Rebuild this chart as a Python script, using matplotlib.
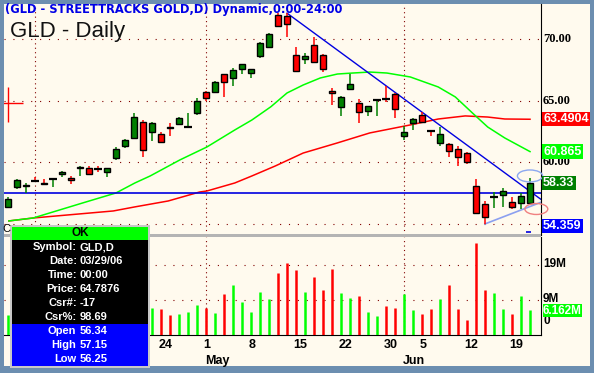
import matplotlib
matplotlib.use("Agg")
import matplotlib.pyplot as plt
from matplotlib.patches import Rectangle, Ellipse

W, H = 594, 373

# daily bars, 03/29/06 .. 06/21/06 (bar index 0..58)
opens = [56.34, 58.00, 58.05, 58.50, 58.35, 58.62, 59.05, 58.70, 59.55, 59.55,
         59.50, 59.25, 60.35, 61.30, 62.00, 63.27, 62.45, 62.30, 62.90, 63.10,
         62.85, 64.00, 65.70, 65.70, 67.15, 66.85, 67.55, 67.25, 68.60, 69.35,
         71.95, 71.85, 68.70, 68.40, 69.50, 68.70, 65.80, 64.50, 65.95, 64.80,
         64.15, 65.00, 65.15, 65.55, 62.15, 63.20, 63.85, 62.55, 61.55, 61.50,
         61.10, 60.75, 58.10, 56.60, 57.17, 57.35, 56.80, 56.70, 56.70]
highs = [57.15, 58.65, 58.32, 58.80, 58.65, 58.70, 59.30, 58.90, 59.70, 59.70,
         59.70, 59.55, 61.20, 61.90, 64.00, 63.43, 63.25, 62.45, 63.20, 63.70,
         64.00, 65.20, 65.75, 66.60, 67.20, 67.65, 68.00, 67.60, 69.75, 70.50,
         72.10, 72.10, 69.35, 68.85, 70.15, 68.75, 66.05, 65.35, 67.15, 65.15,
         64.60, 65.10, 66.20, 65.60, 62.95, 63.60, 64.10, 62.60, 62.85, 61.55,
         61.35, 60.85, 58.65, 56.85, 57.60, 57.90, 57.20, 57.50, 58.75]
lows = [56.25, 57.85, 57.50, 58.40, 58.15, 58.00, 58.80, 58.25, 58.90, 59.00,
        59.20, 58.80, 60.20, 61.15, 61.90, 60.45, 61.75, 61.55, 62.10, 63.05,
        62.80, 63.85, 64.95, 65.60, 65.30, 66.20, 67.15, 66.85, 68.45, 69.30,
        70.95, 70.15, 67.35, 67.95, 68.05, 67.30, 64.65, 63.75, 65.90, 63.20,
        63.75, 63.75, 64.90, 63.60, 61.80, 62.60, 63.20, 62.10, 61.30, 60.45,
        59.70, 59.85, 55.80, 55.00, 56.30, 56.35, 56.20, 56.20, 56.65]
closes = [57.00, 58.56, 58.15, 58.48, 58.25, 58.65, 59.20, 58.60, 59.65, 59.05,
          59.45, 59.50, 61.05, 61.80, 63.70, 61.00, 63.20, 61.65, 62.80, 63.60,
          62.88, 65.00, 65.20, 66.50, 66.50, 67.50, 67.95, 67.55, 69.70, 70.40,
          71.05, 71.20, 67.40, 68.60, 68.15, 67.55, 65.60, 65.30, 66.35, 64.10,
          64.55, 65.04, 65.12, 64.30, 62.45, 63.50, 63.25, 62.52, 62.30, 60.90,
          60.45, 60.00, 55.90, 55.55, 57.20, 57.65, 56.40, 57.25, 58.33]
# volume in millions
volumes = [4.7, 6.0, 5.5, 5.0, 5.5, 4.5, 6.5, 5.0, 6.0, 5.5,
           5.0, 6.5, 8.0, 7.5, 12.0, 9.0, 6.7, 6.4, 4.7, 5.0,
           5.6, 7.6, 6.7, 5.3, 10.7, 13.3, 8.4, 5.6, 11.3, 9.3,
           16.7, 19.6, 17.6, 11.3, 15.6, 11.9, 17.9, 11.0, 9.6, 10.1,
           5.6, 4.4, 7.3, 6.7, 10.7, 6.1, 5.0, 6.4, 9.3, 13.3,
           6.4, 3.3, 25.3, 11.9, 11.0, 6.4, 5.0, 10.1, 6.162]

# moving averages (bar index, price)
ma_fast_x = [0.1, 2.8, 8.3, 12.0, 14.1, 15.8, 19.1, 22.1, 25.2, 27.1, 29.2, 31.0,
             32.8, 34.7, 36.6, 38.3, 40.2, 42.1, 44.7, 47.8, 49.7, 51.6, 53.3,
             55.2, 58.0]
ma_fast_y = [55.24, 55.48, 56.70, 57.51, 58.32, 58.89, 60.19, 61.24, 62.62, 63.43,
             64.50, 65.62, 66.27, 66.84, 67.16, 67.24, 67.32, 67.24, 66.92, 66.11,
             65.30, 64.00, 62.86, 61.97, 60.865]
ma_slow_x = [0.1, 2.8, 11.7, 14.1, 17.8, 21.3, 22.1, 25.2, 27.1, 29.7, 32.8, 36.6,
             40.2, 44.7, 47.8, 50.8, 53.3, 55.2, 58.0]
ma_slow_y = [55.24, 55.48, 56.05, 56.38, 56.86, 57.59, 57.67, 58.32, 58.89, 59.70,
             60.75, 61.57, 62.38, 63.03, 63.51, 63.76, 63.67, 63.51, 63.4904]

# drawn lines
support_level = 57.5
down_trend_x = [31, 59.2]
down_trend_y = [72.1, 57.0]
up_trend_x = [53, 59.2]
up_trend_y = [55.0, 56.75]

day_ticks = [17, 22, 27, 32, 37, 42, 46, 51, 56]
day_labels = ["24", "1", "8", "15", "22", "30", "5", "12", "19"]
month_ticks = [22, 44]
month_labels = ["May", "Jun"]
month_lines = [3, 22, 44]

price_grid = [55, 60, 65, 70]
price_labels = ["70.00", "65.00", "60.00"]
vol_grid = [9, 19]

info_rows = [("Symbol:", "GLD,D"), ("Date:", "03/29/06"), ("Time:", "00:00"),
             ("Price:", "64.7876"), ("Csr#:", "-17"), ("Csr%:", "98.69")]
ohl_rows = [("Open", "56.34"), ("High", "57.15"), ("Low", "56.25")]

CREAM = "#FFFAEE"
FRAME = "#6C8EB0"
DOT = "#800000"
GREEN = "#008000"
LIME = "#00FF00"
RED = "#FF0000"

plt.rcParams["font.family"] = ["Liberation Sans", "DejaVu Sans"]


def px_rect(x0, y0, x1, y1):
    return [x0 / W, 1 - y1 / H, (x1 - x0) / W, (y1 - y0) / H]


fig = plt.figure(figsize=(W / 100, H / 100), dpi=100, facecolor=FRAME)
fig.add_artist(Rectangle((4 / W, 1 - 366 / H), 586 / W, 362 / H,
                         transform=fig.transFigure, fc=CREAM, ec="none", zorder=-5))

ax = fig.add_axes(px_rect(4, 4, 541, 235))
axv = fig.add_axes(px_rect(4, 237, 541, 335), sharex=ax)
for a in (ax, axv):
    a.set_facecolor(CREAM)
    for s in ("left", "top", "bottom"):
        a.spines[s].set_visible(False)
    a.spines["right"].set_color("black")
    a.tick_params(left=False, right=False, bottom=False, labelleft=False,
                  labelbottom=False)
axv.spines["bottom"].set_visible(True)
axv.spines["bottom"].set_color("black")

ax.set_xlim(-0.44, 59.22)
ax.set_ylim(54.10, 72.84)
axv.set_ylim(-1.0, 27.0)

# grid
for g in price_grid:
    ax.axhline(g, color=DOT, lw=0.8, ls=(0, (1, 7)), zorder=1)
for g in vol_grid:
    axv.axhline(g, color=DOT, lw=0.8, ls=(0, (1, 7)), zorder=1)
for m in month_lines:
    ax.axvline(m, color=DOT, lw=0.8, ls=(0, (1, 3)), zorder=1)
    axv.axvline(m, color=DOT, lw=0.8, ls=(0, (1, 3)), zorder=1)

# moving averages and lines
ax.plot(ma_slow_x, ma_slow_y, color=RED, lw=1.1, zorder=2)
ax.plot(ma_fast_x, ma_fast_y, color=LIME, lw=1.1, zorder=2)
ax.axhline(support_level, color="#0000E0", lw=1.2, zorder=2)
ax.plot(down_trend_x, down_trend_y, color="#0000E0", lw=1.0, zorder=2)
ax.plot(up_trend_x, up_trend_y, color="#8CA0F0", lw=1.2, zorder=2)

# candles
for i, (o, h, l, c) in enumerate(zip(opens, highs, lows, closes)):
    col = GREEN if c >= o else RED
    ax.vlines(i, l, h, color=col, lw=1.1, zorder=3)
    if abs(c - o) < 0.06:
        ax.hlines((o + c) / 2, i - 0.4, i + 0.4, color="black", lw=1.6, zorder=4)
    else:
        ax.bar(i, abs(c - o), bottom=min(o, c), width=0.72, color=col,
               edgecolor="black", lw=1.0, zorder=4)

# volume
for i, v in enumerate(volumes):
    col = LIME if closes[i] >= opens[i] else RED
    axv.vlines(i, -1.0, v, color=col, lw=1.8, zorder=3)

# cursor cross and markers
ax.hlines(64.7876, -0.6, 1.7, color=RED, lw=1.0, zorder=5)
ax.vlines(0, 63.3, 66.1, color=RED, lw=1.0, zorder=5)
ax.hlines(54.359, 57.5, 58.1, color="#0000E0", lw=1.2, zorder=5)
ax.add_patch(Ellipse((58.0, 58.89), 2.8, 0.97, fill=False, ec="#8CA8F0",
                     lw=1.0, zorder=6, clip_on=False))
ax.add_patch(Ellipse((58.7, 56.21), 2.55, 0.89, fill=False, ec="#F08080",
                     lw=1.0, zorder=6, clip_on=False))

# right axis labels
for t in price_labels:
    ax.annotate(t, xy=(1, float(t)), xycoords=("axes fraction", "data"),
                xytext=(2, 0), textcoords="offset pixels", va="center",
                ha="left", fontsize=9, fontweight="bold",
                family=["Liberation Serif", "DejaVu Serif"], annotation_clip=False)


def value_tag(a, text, val, bg, fg="white", va="center", dy=0, size=9, pad=0.1):
    a.annotate(text, xy=(1, val), xycoords=("axes fraction", "data"),
               xytext=(2, dy), textcoords="offset pixels", va=va, ha="left",
               fontsize=size, fontweight="bold", color=fg, annotation_clip=False,
               bbox=dict(boxstyle="square,pad=%.2f" % pad, fc=bg, ec="none"),
               zorder=8)


value_tag(ax, "63.4904", 63.4904, RED)
value_tag(ax, "60.865", 60.865, LIME)
value_tag(ax, "58.33", 58.33, GREEN)
value_tag(ax, "54.359", 54.359, "#0000FF", va="bottom", dy=0)

for t, v in (("19M", 19), ("9M", 9)):
    axv.annotate(t, xy=(1, v), xycoords=("axes fraction", "data"), xytext=(2, 1),
                 textcoords="offset pixels", va="center", ha="left", fontsize=8.5,
                 fontweight="bold", annotation_clip=False)
axv.annotate("0", xy=(1, 0), xycoords=("axes fraction", "data"), xytext=(2, 10),
             textcoords="offset pixels", va="center", ha="left", fontsize=8.5,
             fontweight="bold", annotation_clip=False)
value_tag(axv, "6.162M", volumes[-1], LIME, dy=-1, size=8.5, pad=0.04)

# date labels
xt = axv.get_xaxis_transform()
for pos, lab in zip(day_ticks, day_labels):
    axv.text(pos - 0.3, -0.105, lab, transform=xt, ha="left", va="center",
             fontsize=9, fontweight="bold")
for pos, lab in zip(month_ticks, month_labels):
    axv.text(pos - 0.1, -0.265, lab, transform=xt, ha="left", va="center",
             fontsize=9, fontweight="bold")

# overlay in pixel coordinates: titles, separator, info box
ov = fig.add_axes([0, 0, 1, 1], zorder=20)
ov.set_xlim(0, W)
ov.set_ylim(H, 0)
ov.axis("off")
ov.patch.set_alpha(0)

ov.text(5, 9, "(GLD - STREETTRACKS GOLD,D) Dynamic,0:00-24:00", color="#0000E6",
        fontsize=8.3, fontweight="bold", family=["DejaVu Sans"], va="center")
ov.text(10, 31, "GLD - Daily", fontsize=16, va="center", color="#111111")
ov.add_patch(Rectangle((4, 234), 537, 3, fc="#B4B4B4", ec="none"))
ov.text(2, 229, "C", fontsize=8, va="center")

ov.add_patch(Rectangle((10, 225), 140, 143, fc="#C8C8C8", ec="none"))
ov.add_patch(Rectangle((12, 227), 136, 13, fc=LIME, ec="none"))
ov.add_patch(Rectangle((12, 240), 136, 84, fc="black", ec="none"))
ov.add_patch(Rectangle((12, 324), 136, 42, fc="#0000FF", ec="none"))
ov.text(80, 233.5, "OK", fontsize=8.5, fontweight="bold", ha="center", va="center")
for k, (lab, val) in enumerate(info_rows):
    y = 247 + k * 14
    ov.text(77, y, lab, color="white", fontsize=8, fontweight="bold",
            ha="right", va="center")
    ov.text(80, y, val, color="white", fontsize=8, fontweight="bold",
            ha="left", va="center")
for k, (lab, val) in enumerate(ohl_rows):
    y = 331 + k * 14
    ov.text(76, y, lab, color="white", fontsize=8, fontweight="bold",
            ha="right", va="center")
    ov.text(80, y, val, color="white", fontsize=8, fontweight="bold",
            ha="left", va="center")

fig.savefig("out.png", dpi=100, facecolor=FRAME)
